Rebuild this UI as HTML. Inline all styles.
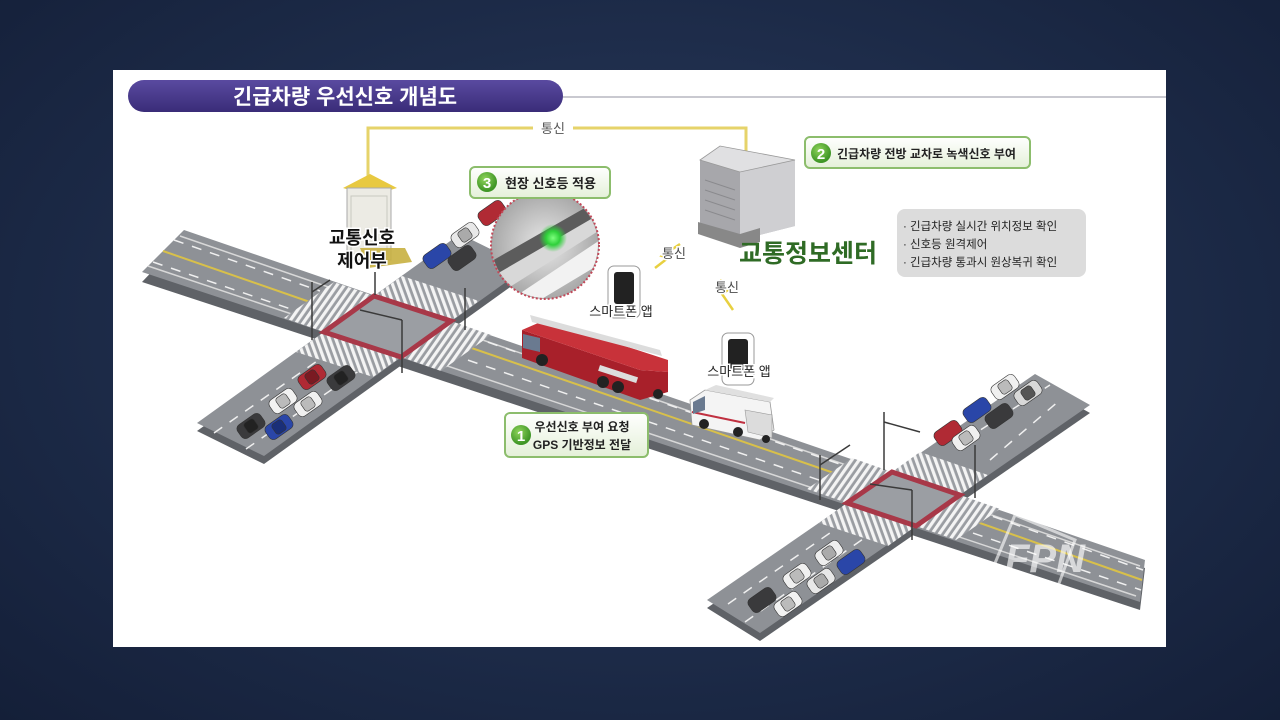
<!DOCTYPE html>
<html><head><meta charset="utf-8"><style>
html,body{margin:0;padding:0;width:1280px;height:720px;overflow:hidden;background:#1c2a47;}
body{background:radial-gradient(ellipse at 50% 45%,#2a3b5e 0%,#1c2a47 60%,#141f38 100%);}
svg{position:absolute;left:0;top:0;}
text{font-family:"Liberation Sans","Noto Sans CJK KR","NanumGothic",sans-serif;}
</style></head><body>
<svg width="1280" height="720" viewBox="0 0 1280 720">
<defs>
<pattern id="zebra" width="6" height="6" patternUnits="userSpaceOnUse" patternTransform="rotate(35)">
<rect width="6" height="6" fill="#9a9da2"/><rect width="3.2" height="6" fill="#f4f4f4"/></pattern>
<pattern id="zebra2" width="6" height="6" patternUnits="userSpaceOnUse" patternTransform="rotate(-20)">
<rect width="6" height="6" fill="#9a9da2"/><rect width="3.2" height="6" fill="#f4f4f4"/></pattern>
<linearGradient id="pill" x1="0" y1="0" x2="0" y2="1"><stop offset="0" stop-color="#5a4aa0"/><stop offset="1" stop-color="#3a2c78"/></linearGradient>
<linearGradient id="gbox" x1="0" y1="0" x2="0" y2="1"><stop offset="0" stop-color="#ffffff"/><stop offset="1" stop-color="#e4f0d8"/></linearGradient>
<radialGradient id="mag" cx="0.5" cy="0.5" r="0.5"><stop offset="0" stop-color="#e8e8e8"/><stop offset="1" stop-color="#a8a8a8"/></radialGradient>
<radialGradient id="glow" cx="0.5" cy="0.5" r="0.5"><stop offset="0" stop-color="#7dff7d"/><stop offset="0.5" stop-color="#2fd03a"/><stop offset="1" stop-color="#2fd03a" stop-opacity="0"/></radialGradient>
<radialGradient id="gnum" cx="0.4" cy="0.35" r="0.6"><stop offset="0" stop-color="#8fd45a"/><stop offset="1" stop-color="#3f9626"/></radialGradient>
</defs>

<rect x="113" y="70" width="1053" height="577" fill="#ffffff"/>
<line x1="540" y1="97" x2="1166" y2="97" stroke="#c9c9d0" stroke-width="2"/>
<rect x="128" y="80" width="435" height="32" rx="16" fill="url(#pill)"/>
<text x="345" y="104" fill="#fff" font-size="21" font-weight="bold" text-anchor="middle">긴급차량 우선신호 개념도</text>

<polyline points="368,180 368,128 746,128 746,152" fill="none" stroke="#e6d36a" stroke-width="3"/>
<rect x="533" y="118" width="40" height="18" fill="#fff"/>
<text x="553" y="133" font-size="13" fill="#555" text-anchor="middle">통신</text>

<g fill="#5f6267">
<polygon points="184,238 1145,568 1140,610 142,282"/>
<polygon points="197,431 264,464 527,275 460,242"/>
<polygon points="707,608 760,641 1090,413 1035,382"/>
</g>
<g fill="#8e9196">
<polygon points="184,230 1145,560 1140,602 142,272"/>
<polygon points="197,423 264,456 527,267 460,234"/>
<polygon points="707,600 760,633 1090,405 1035,374"/>
</g>
<g stroke="#d8d8d8" stroke-width="1.5" fill="none">
<line x1="180" y1="236" x2="1140" y2="566"/>
<line x1="148" y1="266" x2="1136" y2="596"/>
</g>
<g stroke="#d8c04a" stroke-width="2" fill="none">
<line x1="163" y1="251" x2="330" y2="309"/>
<line x1="460" y1="344" x2="860" y2="482"/>
<line x1="960" y1="516" x2="1142" y2="580"/>
</g>
<g stroke="#f0f0f0" stroke-width="1.5" stroke-dasharray="10 9" fill="none">
<line x1="174" y1="240" x2="320" y2="291"/>
<line x1="153" y1="262" x2="320" y2="319"/>
<line x1="470" y1="336" x2="880" y2="478"/>
<line x1="450" y1="354" x2="860" y2="494"/>
<line x1="975" y1="510" x2="1143" y2="570"/>
<line x1="955" y1="527" x2="1141" y2="590"/>
<line x1="214" y1="433" x2="330" y2="352"/>
<line x1="246" y1="449" x2="360" y2="370"/>
<line x1="728" y1="604" x2="860" y2="512"/>
<line x1="745" y1="622" x2="880" y2="527"/>
<line x1="990" y1="460" x2="1060" y2="400"/>
<line x1="965" y1="440" x2="1050" y2="385"/>
</g>

<!-- left intersection -->
<polygon points="374,296 334,282 284,318 324,332" fill="url(#zebra)"/>
<polygon points="451,321 491,335 441,371 401,357" fill="url(#zebra)"/>
<polygon points="374,296 451,321 479,301 402,276" fill="url(#zebra2)"/>
<polygon points="324,332 401,357 373,377 296,352" fill="url(#zebra2)"/>
<polygon points="374,296 451,321 401,357 324,332" fill="#9b9ea3"/>
<polygon points="374,296 451,321 401,357 324,332" fill="none" stroke="#a83848" stroke-width="5"/>
<!-- right intersection -->
<polygon points="892,472 852,458 807,489 847,503" fill="url(#zebra)"/>
<polygon points="960,495 1000,509 956,540 916,526" fill="url(#zebra)"/>
<polygon points="892,472 960,495 988,475 920,452" fill="url(#zebra2)"/>
<polygon points="847,503 916,526 888,546 819,523" fill="url(#zebra2)"/>
<polygon points="892,472 960,495 916,526 847,503" fill="#9b9ea3"/>
<polygon points="892,472 960,495 916,526 847,503" fill="none" stroke="#a83848" stroke-width="5"/>

<g stroke="#3a3a3a" stroke-width="1.5" fill="none">
<line x1="312" y1="340" x2="312" y2="282"/><line x1="312" y1="292" x2="330" y2="280"/>
<line x1="402" y1="373" x2="402" y2="320"/><line x1="402" y1="320" x2="360" y2="310"/>
<line x1="375" y1="295" x2="375" y2="272"/>
<line x1="465" y1="330" x2="465" y2="288"/>
<line x1="820" y1="500" x2="820" y2="455"/><line x1="820" y1="465" x2="850" y2="445"/>
<line x1="884" y1="470" x2="884" y2="412"/><line x1="884" y1="422" x2="920" y2="432"/>
<line x1="912" y1="540" x2="912" y2="490"/><line x1="912" y1="490" x2="870" y2="484"/>
<line x1="975" y1="498" x2="975" y2="445"/>
</g>

<g stroke="#333" stroke-width="0.6">
<g transform="translate(312,377) rotate(-35)"><rect x="-14" y="-8" width="28" height="16" rx="5" fill="#b02a34"/><rect x="-6" y="-6" width="12" height="12" rx="3" fill="#7a1a22"/></g>
<g transform="translate(341,378) rotate(-35)"><rect x="-14" y="-8" width="28" height="16" rx="5" fill="#3a3a3c"/><rect x="-6" y="-6" width="12" height="12" rx="3" fill="#222"/></g>
<g transform="translate(283,401) rotate(-35)"><rect x="-14" y="-8" width="28" height="16" rx="5" fill="#f2f2f2"/><rect x="-6" y="-6" width="12" height="12" rx="3" fill="#bbb"/></g>
<g transform="translate(308,404) rotate(-35)"><rect x="-14" y="-8" width="28" height="16" rx="5" fill="#f0f0f0"/><rect x="-6" y="-6" width="12" height="12" rx="3" fill="#bbb"/></g>
<g transform="translate(251,426) rotate(-35)"><rect x="-14" y="-8" width="28" height="16" rx="5" fill="#3a3a3c"/><rect x="-6" y="-6" width="12" height="12" rx="3" fill="#222"/></g>
<g transform="translate(279,427) rotate(-35)"><rect x="-14" y="-8" width="28" height="16" rx="5" fill="#2a46a8"/><rect x="-6" y="-6" width="12" height="12" rx="3" fill="#1a2f78"/></g>

<g transform="translate(492,213) rotate(-35)"><rect x="-14" y="-8" width="28" height="16" rx="5" fill="#b02a34"/></g>
<g transform="translate(465,235) rotate(-35)"><rect x="-14" y="-8" width="28" height="16" rx="5" fill="#e8e8e8"/><rect x="-6" y="-6" width="12" height="12" rx="3" fill="#aaa"/></g>
<g transform="translate(437,256) rotate(-35)"><rect x="-14" y="-8" width="28" height="16" rx="5" fill="#2a46a8"/></g>
<g transform="translate(462,258) rotate(-35)"><rect x="-14" y="-8" width="28" height="16" rx="5" fill="#3a3a3c"/></g>

<g transform="translate(1005,387) rotate(-35)"><rect x="-14" y="-8" width="28" height="16" rx="5" fill="#f0f0f0"/><rect x="-6" y="-6" width="12" height="12" rx="3" fill="#bbb"/></g>
<g transform="translate(1028,393) rotate(-35)"><rect x="-14" y="-8" width="28" height="16" rx="5" fill="#d8d8d8"/><rect x="-6" y="-6" width="12" height="12" rx="3" fill="#555"/></g>
<g transform="translate(977,410) rotate(-35)"><rect x="-14" y="-8" width="28" height="16" rx="5" fill="#2a46a8"/></g>
<g transform="translate(999,416) rotate(-35)"><rect x="-14" y="-8" width="28" height="16" rx="5" fill="#3a3a3c"/></g>
<g transform="translate(948,433) rotate(-35)"><rect x="-14" y="-8" width="28" height="16" rx="5" fill="#b02a34"/></g>
<g transform="translate(966,438) rotate(-35)"><rect x="-14" y="-8" width="28" height="16" rx="5" fill="#f0f0f0"/><rect x="-6" y="-6" width="12" height="12" rx="3" fill="#bbb"/></g>

<g transform="translate(829,553) rotate(-35)"><rect x="-14" y="-8" width="28" height="16" rx="5" fill="#eeeeee"/><rect x="-6" y="-6" width="12" height="12" rx="3" fill="#aaa"/></g>
<g transform="translate(851,562) rotate(-35)"><rect x="-14" y="-8" width="28" height="16" rx="5" fill="#2a46a8"/></g>
<g transform="translate(797,576) rotate(-35)"><rect x="-14" y="-8" width="28" height="16" rx="5" fill="#f0f0f0"/><rect x="-6" y="-6" width="12" height="12" rx="3" fill="#bbb"/></g>
<g transform="translate(821,581) rotate(-35)"><rect x="-14" y="-8" width="28" height="16" rx="5" fill="#e8e8e8"/><rect x="-6" y="-6" width="12" height="12" rx="3" fill="#aaa"/></g>
<g transform="translate(762,600) rotate(-35)"><rect x="-14" y="-8" width="28" height="16" rx="5" fill="#3a3a3c"/></g>
<g transform="translate(788,604) rotate(-35)"><rect x="-14" y="-8" width="28" height="16" rx="5" fill="#f2f2f2"/><rect x="-6" y="-6" width="12" height="12" rx="3" fill="#bbb"/></g>
</g>

<!-- fire truck -->
<g>
<polygon points="522,330 640,370 668,372 668,392 640,400 522,358" fill="#a8202a"/>
<polygon points="522,330 545,320 668,360 668,372 640,370" fill="#c8323a"/>
<polygon points="530,315 660,350 662,356 532,322" fill="#dcdcdc"/>
<polygon points="523,334 540,338 540,352 523,348" fill="#6a7a90"/>
<g fill="#222"><circle cx="542" cy="360" r="6"/><circle cx="603" cy="382" r="6"/><circle cx="618" cy="387" r="6"/><circle cx="658" cy="394" r="5"/></g>
<rect x="600" y="365" width="40" height="6" fill="#ddd" transform="rotate(18 600 365)"/>
</g>

<!-- ambulance -->
<g>
<polygon points="690,400 705,390 770,402 774,430 760,440 692,425" fill="#f4f4f4" stroke="#999" stroke-width="0.8"/>
<polygon points="705,390 716,385 774,398 770,402" fill="#e0e0e0"/>
<polygon points="745,410 772,415 772,438 748,432" fill="#dcdcdc" stroke="#999" stroke-width="0.6"/>
<line x1="692" y1="412" x2="745" y2="423" stroke="#c03040" stroke-width="2"/>
<polygon points="693,402 705,396 705,410 693,414" fill="#6a7a90"/>
<g fill="#222"><circle cx="704" cy="424" r="5"/><circle cx="738" cy="432" r="5"/><circle cx="766" cy="439" r="4"/></g>
</g>

<!-- cabinet -->
<g>
<polygon points="343,188 370,174 397,188 370,196" fill="#e8c940"/>
<rect x="347" y="188" width="44" height="72" fill="#ecebe4" stroke="#aaa"/>
<rect x="351" y="196" width="36" height="58" fill="none" stroke="#c8c8c0"/>
<polygon points="360,248 405,248 412,262 368,268" fill="#c8b040" opacity="0.9"/>
</g>
<text x="362" y="244" font-size="18" font-weight="bold" text-anchor="middle" fill="#111" stroke="#fff" stroke-width="3" paint-order="stroke">교통신호</text>
<text x="362" y="267" font-size="18" font-weight="bold" text-anchor="middle" fill="#111" stroke="#fff" stroke-width="3" paint-order="stroke">제어부</text>

<!-- building -->
<g>
<polygon points="700,160 720,146 795,160 795,226 740,240 700,225" fill="#bdbdc0"/>
<polygon points="700,160 740,172 740,240 700,225" fill="#a7a7ab"/>
<polygon points="740,172 795,160 795,226 740,240" fill="#cfcfd2"/>
<polygon points="700,160 720,146 795,160 740,172" fill="#e0e0e2" stroke="#999" stroke-width="0.8"/>
<g stroke="#8a8a8e" stroke-width="1"><line x1="705" y1="180" x2="735" y2="190"/><line x1="705" y1="190" x2="735" y2="200"/><line x1="705" y1="200" x2="735" y2="210"/><line x1="705" y1="210" x2="735" y2="220"/></g>
<polygon points="698,222 740,234 760,228 760,242 740,248 698,234" fill="#888"/>
</g>
<text x="808" y="262" font-size="25" font-weight="bold" text-anchor="middle" fill="#2f6b25">교통정보센터</text>

<polyline points="655,268 668,258 662,256 680,244" fill="none" stroke="#e8d040" stroke-width="2.5"/>
<text x="674" y="258" font-size="13" fill="#4a4a4a" text-anchor="middle" stroke="#fff" stroke-width="3" paint-order="stroke">통신</text>
<polyline points="720,280 728,290 722,294 733,310" fill="none" stroke="#e8d040" stroke-width="2.5"/>
<text x="727" y="292" font-size="13" fill="#4a4a4a" text-anchor="middle" stroke="#fff" stroke-width="3" paint-order="stroke">통신</text>

<rect x="608" y="266" width="32" height="52" rx="6" fill="#fff" stroke="#999"/>
<rect x="614" y="272" width="20" height="32" rx="3" fill="#222"/>
<text x="621" y="316" font-size="13" fill="#222" text-anchor="middle" stroke="#fff" stroke-width="3" paint-order="stroke">스마트폰 앱</text>
<rect x="722" y="333" width="32" height="52" rx="6" fill="#fff" stroke="#999"/>
<rect x="728" y="339" width="20" height="32" rx="3" fill="#222"/>
<text x="739" y="376" font-size="13" fill="#222" text-anchor="middle" stroke="#fff" stroke-width="3" paint-order="stroke">스마트폰 앱</text>

<g>
<circle cx="545" cy="245" r="54" fill="url(#mag)"/>
<clipPath id="mc"><circle cx="545" cy="245" r="53"/></clipPath>
<g clip-path="url(#mc)">
<polygon points="490,262 590,205 600,218 500,278" fill="#5c5c5c"/>
<polygon points="495,275 598,215 608,225 505,290" fill="#d8d8d8"/>
<polygon points="510,300 600,240 610,258 520,312" fill="#f2f2f2"/>
<circle cx="553" cy="238" r="14" fill="url(#glow)"/>
</g>
<circle cx="545" cy="245" r="54" fill="none" stroke="#c24858" stroke-width="2" stroke-dasharray="2 2"/>
</g>

<g>
<rect x="470" y="167" width="140" height="31" rx="5" fill="url(#gbox)" stroke="#8cbd6c" stroke-width="2"/>
<circle cx="487" cy="182" r="10" fill="url(#gnum)"/>
<text x="487" y="188" font-size="15" font-weight="bold" fill="#fff" text-anchor="middle">3</text>
<text x="505" y="188" font-size="13" font-weight="bold" fill="#222">현장 신호등 적용</text>

<rect x="805" y="137" width="225" height="31" rx="5" fill="url(#gbox)" stroke="#8cbd6c" stroke-width="2"/>
<circle cx="821" cy="153" r="10" fill="url(#gnum)"/>
<text x="821" y="159" font-size="15" font-weight="bold" fill="#fff" text-anchor="middle">2</text>
<text x="837" y="158" font-size="12" font-weight="bold" fill="#222">긴급차량 전방 교차로 녹색신호 부여</text>

<rect x="505" y="413" width="143" height="44" rx="5" fill="url(#gbox)" stroke="#8cbd6c" stroke-width="2"/>
<circle cx="521" cy="435" r="10" fill="url(#gnum)"/>
<text x="521" y="441" font-size="15" font-weight="bold" fill="#fff" text-anchor="middle">1</text>
<text x="582" y="431" font-size="12" font-weight="bold" fill="#222" text-anchor="middle">우선신호 부여 요청</text>
<text x="582" y="449" font-size="12" font-weight="bold" fill="#222" text-anchor="middle">GPS 기반정보 전달</text>
</g>

<rect x="897" y="209" width="189" height="68" rx="8" fill="#dcdcdc"/>
<text x="903" y="230" font-size="11.5" fill="#222">· 긴급차량 실시간 위치정보 확인</text>
<text x="903" y="248" font-size="11.5" fill="#222">· 신호등  원격제어</text>
<text x="903" y="266" font-size="11.5" fill="#222">· 긴급차량 통과시 원상복귀 확인</text>

<polygon points="1015,515 1075,540 1050,608 988,580" fill="none" stroke="#ffffff" stroke-opacity="0.6" stroke-width="3"/>
<text x="1045" y="572" font-size="40" font-weight="bold" font-style="italic" fill="#ffffff" fill-opacity="0.65" text-anchor="middle">FPN</text>
</svg>
</body></html>
